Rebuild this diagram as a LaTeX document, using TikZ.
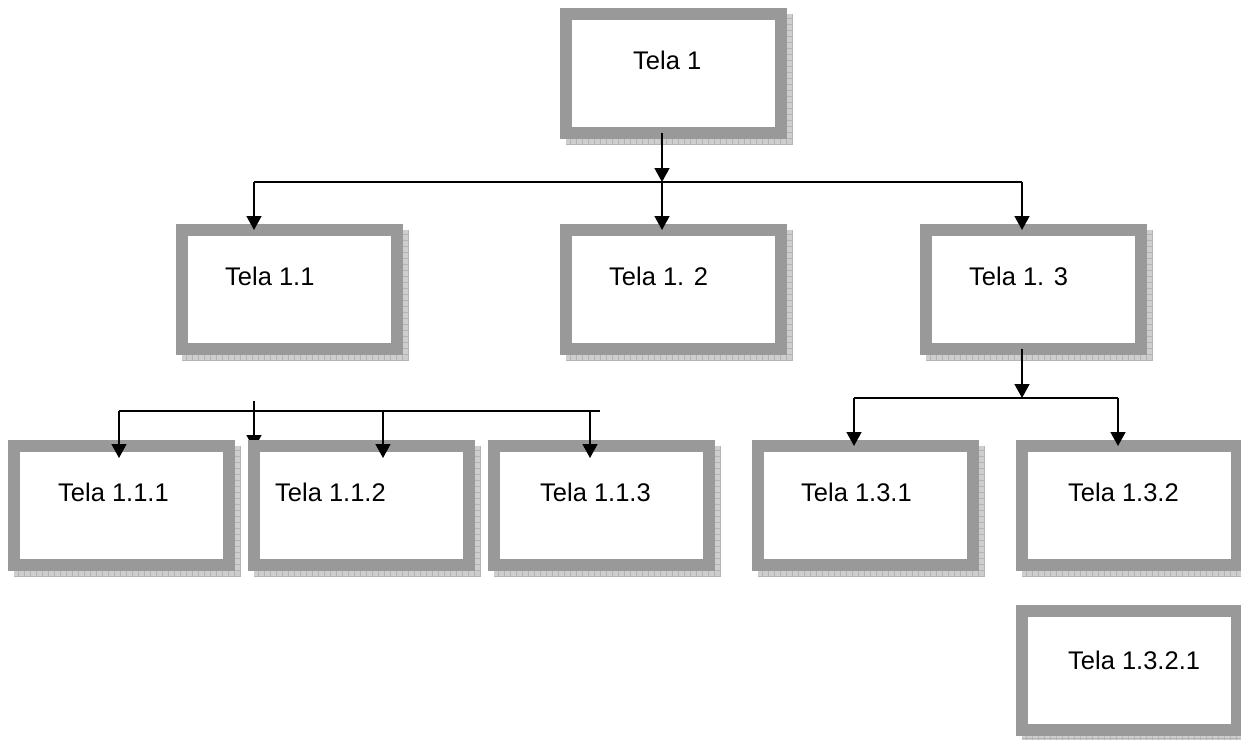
\documentclass[tikz,border=0pt]{standalone}
\usepackage{fontspec}
\setmainfont{Liberation Sans}
\usetikzlibrary{arrows.meta,calc}
\definecolor{bordergray}{RGB}{153,153,153}
\definecolor{shadowgray}{RGB}{206,206,206}
\definecolor{shadowline}{RGB}{180,180,180}
\begin{document}
\begin{tikzpicture}[x=1pt,y=-1pt,
  screen/.style={draw=bordergray,line width=12pt,fill=white,minimum width=215pt,minimum height=119pt,inner sep=0pt,outer sep=0pt,anchor=north west},
  shade/.style={fill=shadowgray},
  conn/.style={line width=1.5pt},
  arr/.style={line width=1.5pt,-{Triangle[width=15pt,length=14pt]}},
  lbl/.style={anchor=base west,inner sep=0pt,font=\fontsize{25.5}{30}\selectfont}
]
\useasboundingbox (0,0) rectangle (1241,739);
% shadows
\foreach \px/\py in {566/14,182/230,566/230,926/230,14/446,254/446,494/446,758/446,1022/446,1022/611}{
  \fill[shade] (\px,\py) rectangle ++(227,131);
  \begin{scope}
    \clip (\px,\py) rectangle ++(227,131);
    \draw[shadowline,line width=0.4pt,step=6pt] (\px,\py) grid ++(227,131);
  \end{scope}
}
% stub arrow drawn beneath box Tela 1.1.2
\coordinate (s112) at (254,401);
\coordinate (s112e) at (254,449);
\draw[arr] (s112) -- (s112e);
% boxes
\node[screen] (t1) at (566,14) {};
\node[screen] (t11) at (182,230) {};
\node[screen] (t12) at (566,230) {};
\node[screen] (t13) at (926,230) {};
\node[screen] (t111) at (14,446) {};
\node[screen] (t112) at (254,446) {};
\node[screen] (t113) at (494,446) {};
\node[screen] (t131) at (758,446) {};
\node[screen] (t132) at (1022,446) {};
\node[screen] (t1321) at (1022,611) {};
% labels
\node[lbl] (l1) at (633,69) {Tela 1};
\node[lbl] (l11) at (225,285) {Tela 1.1};
\node[lbl] (l12) at (609,285) {Tela 1. 2};
\node[lbl] (l13) at (969,285) {Tela 1. 3};
\node[lbl] (l111) at (58,501) {Tela 1.1.1};
\node[lbl] (l112) at (275,501) {Tela 1.1.2};
\node[lbl] (l113) at (540,501) {Tela 1.1.3};
\node[lbl] (l131) at (801,501) {Tela 1.3.1};
\node[lbl] (l132) at (1068,501) {Tela 1.3.2};
\node[lbl] (l1321) at (1068,669) {Tela 1.3.2.1};
% level 1 -> level 2
\coordinate (j1) at (662,182);
\coordinate (j11) at (254,182);
\coordinate (j13) at (1022,182);
\draw[arr] (j1 |- t1.south) -- (j1);
\draw[conn] (j11) -- (j13);
\draw[arr] (j11) -- (j11 |- t11.north);
\draw[arr] (j1) -- (j1 |- t12.north);
\draw[arr] (j13) -- (j13 |- t13.north);
% level 2 (Tela 1.1) -> level 3
\coordinate (k0) at (119,411);
\coordinate (k2) at (383,411);
\coordinate (k3) at (590,411);
\coordinate (kend) at (600,411);
\draw[conn] (k0) -- (kend);
\draw[arr] (k0) -- ($(k0 |- t111.north)+(0,12)$);
\draw[arr] (k2) -- ($(k2 |- t112.north)+(0,12)$);
\draw[arr] (k3) -- ($(k3 |- t113.north)+(0,12)$);
% Tela 1.3 -> children
\coordinate (m) at (1022,398);
\coordinate (m1) at (854,398);
\coordinate (m2) at (1118,398);
\draw[arr] (m |- t13.south) -- (m);
\draw[conn] (m1) -- (m2);
\draw[arr] (m1) -- (m1 |- t131.north);
\draw[arr] (m2) -- (m2 |- t132.north);
\end{tikzpicture}
\end{document}
